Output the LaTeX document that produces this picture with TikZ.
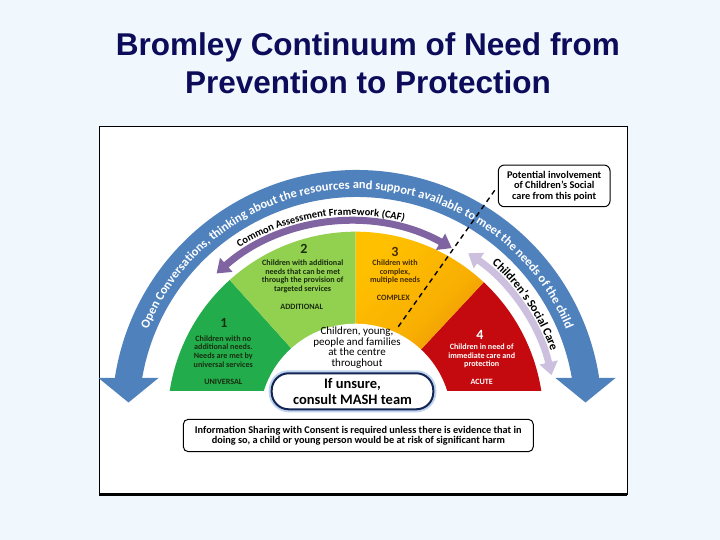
\documentclass[tikz,border=0pt]{standalone}
\usepackage{fontspec}
\setmainfont{Carlito}
\newfontfamily\titlefont{Liberation Sans}
\usetikzlibrary{arrows.meta, decorations.text}
\definecolor{pagebg}{RGB}{240,247,253}
\definecolor{titleblue}{RGB}{12,12,90}
\definecolor{seggreen}{RGB}{34,172,76}
\definecolor{seglight}{RGB}{146,208,80}
\definecolor{segyellow}{RGB}{255,192,0}
\definecolor{segorange}{RGB}{226,122,8}
\definecolor{segred}{RGB}{196,10,14}
\definecolor{segdark}{RGB}{25,45,15}
\definecolor{segbrown}{RGB}{70,45,0}
\definecolor{arcblue}{RGB}{79,129,189}
\definecolor{cafpurple}{RGB}{128,100,162}
\definecolor{cscpurple}{RGB}{204,192,222}
\definecolor{mashnavy}{RGB}{20,36,84}
\definecolor{mashglow}{RGB}{190,212,238}

\begin{document}
\begin{tikzpicture}[x=1pt, y=1pt,
    titletext/.style={font=\titlefont\bfseries\fontsize{31.5}{38}\selectfont, text=titleblue, anchor=base},
    segnum/.style={font=\bfseries\fontsize{14}{14}\selectfont, text=#1},
    segtext/.style={font=\bfseries\fontsize{8.1}{8.7}\selectfont, align=center, text=#1},
    seglabel/.style={font=\bfseries\fontsize{8.1}{9}\selectfont, text=#1},
    notebox/.style={draw, fill=white, rounded corners=6pt, line width=1pt, align=center, inner sep=0pt},
    arctext/.style={decorate, decoration={text along path, text align=center, text color=#1}},
    arcarrow/.style={line width=7pt, {Triangle[width=18pt,length=13pt]}-{Triangle[width=18pt,length=13pt]}},
]
\useasboundingbox (0,0) rectangle (720,540);
\fill[pagebg] (0,0) rectangle (720,540);

% title
\node[titletext] (title1) at (368,484) {Bromley Continuum of Need from};
\node[titletext] (title2) at (368,446) {Prevention to Protection};

% picture frame
\draw[line width=1pt, fill=white] (99,45) rectangle (627,413);
\draw[line width=3pt] (99,45) -- (627,45);

% the four segments
\begin{scope}[shift={(355.5,120.3)}]
    \clip (-200,28.7) rectangle (200,200);
    \foreach \a/\b/\c in {132/180/seggreen, 90/132/seglight, 0/47/segred}{
        \fill[\c] (0,0) -- (\a:188) arc[start angle=\a, end angle=\b, radius=188] -- cycle;
    }
    \shade[top color=segyellow, bottom color=segorange, middle color=segyellow!75!segorange, shading angle=45]
        (0,0) -- (47:188) arc[start angle=47, end angle=90, radius=188] -- cycle;
    \fill[white] (0,0) circle (96);
\end{scope}

% outer blue arc
\begin{scope}[shift={(357,125)}]
    \draw[arcblue, line width=27pt, line join=round] (-228.5,33) -- (170.8:231.5)
        arc[start angle=170.8, end angle=9.2, radius=231.5] -- (228.5,33);
    \fill[arcblue] (-258.5,37) -- (-198.5,37) -- (-228.5,12.5) -- cycle;
    \fill[arcblue] (198.5,37) -- (258.5,37) -- (228.5,12.5) -- cycle;
    \path[arctext=white, decoration={text={|\bfseries\fontsize{12.5}{12.5}\selectfont|Open Conversations, thinking about the resources and support available to meet the needs of the child}}]
        (172:226) arc[start angle=172, end angle=8, radius=226];
\end{scope}

% CAF arrow
\begin{scope}[shift={(352,114)}]
    \draw[cafpurple, arcarrow] (131.6:204) arc[start angle=131.6, end angle=60.7, radius=204];
    \path[arctext=black, decoration={text={|\bfseries\fontsize{10.5}{10.5}\selectfont|Common Assessment Framework (CAF)}}]
        (140:211) arc[start angle=140, end angle=58, radius=211];
\end{scope}

% children's social care arrow
\begin{scope}[shift={(355.5,120.3)}]
    \draw[cscpurple, arcarrow] (55.9:201) arc[start angle=55.9, end angle=12.8, radius=201];
    \path[arctext=black, decoration={text={|\bfseries\fontsize{12}{12}\selectfont|Children's Social Care}}]
        (56:207) arc[start angle=56, end angle=12, radius=207];
\end{scope}

% segment labels
\node[segnum=segdark] (n1) at (224,216.7) {1};
\node[segtext=segdark] (t1) at (223.3,188.7) {Children with no\\additional needs.\\Needs are met by\\universal services};
\node[seglabel=segdark] (l1) at (223.3,158.3) {UNIVERSAL};
\node[segnum=segdark] (n2) at (304,290.7) {2};
\node[segtext=segdark] (t2) at (302.7,263.7) {Children with additional\\needs that can be met\\through the provision of\\targeted services};
\node[seglabel=segdark] (l2) at (301.7,233.3) {ADDITIONAL};
\node[segnum=segbrown] (n3) at (395,288.3) {3};
\node[segtext=segbrown] (t3) at (395,267.9) {Children with\\complex,\\multiple needs};
\node[seglabel=segbrown] (l3) at (393.3,241.7) {COMPLEX};
\node[segnum=white] (n4) at (480,205) {4};
\node[segtext=white] (t4) at (481.7,184) {Children in need of\\immediate care and\\protection};
\node[seglabel=white] (l4) at (481.7,158.3) {ACUTE};

% centre of the picture
\node[align=center, font=\fontsize{11}{10.6}\selectfont] (centre) at (357,192.5) {Children, young,\\people and families\\at the centre\\throughout};
\node[draw=mashnavy, line width=2pt, rounded corners=17pt, fill=white, preaction={draw=mashglow, line width=6pt},
      minimum width=161.6pt, minimum height=36pt, inner sep=0pt, align=center,
      font=\bfseries\fontsize{14.5}{16}\selectfont] (mash) at (352.5,148.7) {If unsure,\\consult MASH team};
\node[notebox, minimum width=350pt, minimum height=32.4pt, rounded corners=5pt, font=\bfseries\fontsize{10.3}{10.2}\selectfont] (info) at (358.3,104.5)
    {Information Sharing with Consent is required unless there is evidence that in\\doing so, a child or young person would be at risk of significant harm};

% social care threshold
\node[notebox, minimum width=111.7pt, minimum height=41.7pt, font=\bfseries\fontsize{10.3}{10.6}\selectfont] (potential) at (554.2,354.1)
    {Potential involvement\\of Children's Social\\care from this point};
\coordinate (dashstart) at (398.3,213.3);
\draw[line width=1.4pt, dash pattern=on 5pt off 4pt, shorten >=5pt] (dashstart) -- (potential.west);
\end{tikzpicture}
\end{document}
